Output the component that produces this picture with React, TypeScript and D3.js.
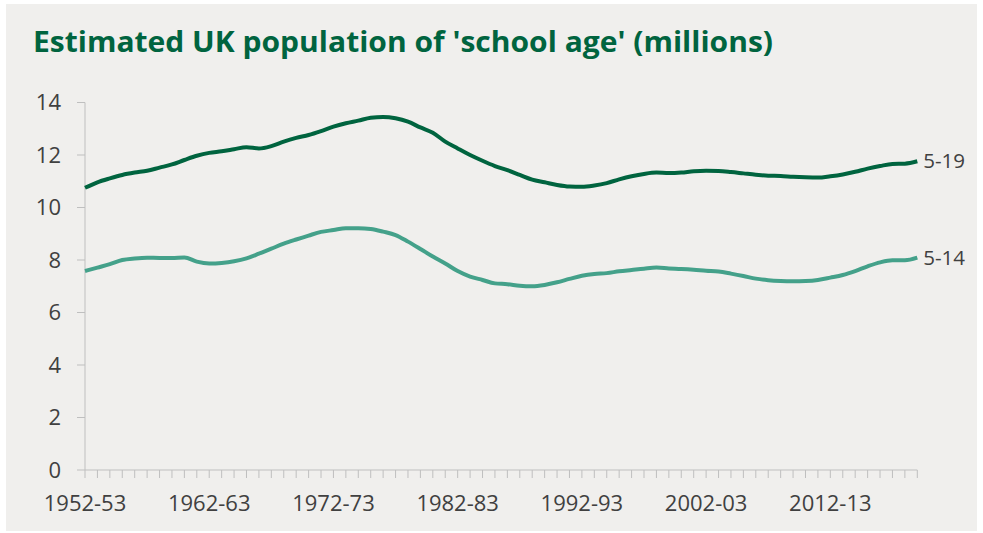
import React from "react";
import * as d3 from "d3";

const startYears: number[] = d3.range(1952, 2020);
const categories: string[] = startYears.map(
  (y) => `${y}-${String((y + 1) % 100).padStart(2, "0")}`
);

const ages5to19: number[] = [
  10.75, 10.96, 11.11, 11.24, 11.33, 11.4, 11.52, 11.64, 11.81, 11.97,
  12.08, 12.14, 12.22, 12.3, 12.25, 12.34, 12.51, 12.65, 12.76, 12.91,
  13.08, 13.21, 13.31, 13.42, 13.45, 13.4, 13.27, 13.05, 12.85, 12.51,
  12.25, 12.0, 11.78, 11.58, 11.42, 11.24, 11.06, 10.96, 10.86, 10.8,
  10.79, 10.84, 10.93, 11.07, 11.19, 11.28, 11.33, 11.31, 11.33, 11.38,
  11.4, 11.39, 11.35, 11.3, 11.25, 11.21, 11.2, 11.17, 11.15, 11.14,
  11.19, 11.26, 11.36, 11.48, 11.58, 11.66, 11.67, 11.76,
];

const ages5to14: number[] = [
  7.58, 7.71, 7.84, 8.0, 8.06, 8.09, 8.08, 8.08, 8.1, 7.94,
  7.87, 7.89, 7.95, 8.06, 8.24, 8.43, 8.62, 8.78, 8.93, 9.07,
  9.14, 9.21, 9.21, 9.18, 9.08, 8.95, 8.7, 8.42, 8.13, 7.87,
  7.58, 7.37, 7.24, 7.11, 7.08, 7.02, 7.0, 7.05, 7.15, 7.28,
  7.4, 7.47, 7.5, 7.57, 7.62, 7.67, 7.71, 7.68, 7.66, 7.63,
  7.59, 7.56, 7.48, 7.39, 7.29, 7.23, 7.2, 7.19, 7.2, 7.24,
  7.33, 7.43, 7.58, 7.76, 7.91, 7.99, 7.99, 8.09,
];

const yTicks: number[] = [0, 2, 4, 6, 8, 10, 12, 14];
const xTickLabels: string[] = [
  "1952-53",
  "1962-63",
  "1972-73",
  "1982-83",
  "1992-93",
  "2002-03",
  "2012-13",
];

const series = [
  { name: "5-19", values: ages5to19, color: "#00643f" },
  { name: "5-14", values: ages5to14, color: "#44a18a" },
];

const title = "Estimated UK population of 'school age' (millions)";

export default function App() {
  const W = 983;
  const H = 533;
  const left = 85;
  const right = 917.3;
  const top = 102.5;
  const bottom = 470;

  const x = d3.scalePoint<string>().domain(categories).range([left, right]);
  const y = d3.scaleLinear().domain([0, 14]).range([bottom, top]);

  const line = d3
    .line<number>()
    .x((_, i) => x(categories[i]) as number)
    .y((d) => y(d))
    .curve(d3.curveMonotoneX);

  const axisColor = "#bfbfbf";
  const textColor = "#404040";
  const font = "'Open Sans', 'Noto Sans', sans-serif";

  return (
    <svg
      width={W}
      height={H}
      style={{ display: "block", position: "absolute", left: 0, top: 0 }}
    >
      <rect x={0} y={0} width={W} height={H} fill="#ffffff" />
      <rect x={6} y={4} width={971} height={527} fill="#f0efed" />
      <text
        x={33}
        y={52}
        fill="#00643f"
        fontFamily="'Open Sans', sans-serif"
        fontWeight={700}
        fontSize={29}
        textLength={740}
        lengthAdjust="spacingAndGlyphs"
      >
        {title}
      </text>

      {/* y axis */}
      <line x1={left} x2={left} y1={top} y2={bottom} stroke={axisColor} strokeWidth={1} />
      {yTicks.map((t) => (
        <g key={t}>
          <line x1={left - 8} x2={left} y1={y(t)} y2={y(t)} stroke={axisColor} strokeWidth={1} />
          <text
            x={61}
            y={y(t)}
            dy="0.35em"
            textAnchor="end"
            fill={textColor}
            fontFamily={font}
            fontSize={22}
          >
            {t}
          </text>
        </g>
      ))}

      {/* x axis */}
      <line x1={left} x2={right} y1={bottom} y2={bottom} stroke={axisColor} strokeWidth={1} />
      {categories.map((c) => (
        <line
          key={c}
          x1={x(c)}
          x2={x(c)}
          y1={bottom}
          y2={bottom + 8}
          stroke={axisColor}
          strokeWidth={1}
        />
      ))}
      {xTickLabels.map((c) => (
        <text
          key={c}
          x={x(c)}
          y={511}
          textAnchor="middle"
          fill={textColor}
          fontFamily={font}
          fontSize={22}
        >
          {c}
        </text>
      ))}

      {series.map((s) => (
        <g key={s.name}>
          <path
            d={line(s.values) || ""}
            fill="none"
            stroke={s.color}
            strokeWidth={4}
            strokeLinejoin="round"
          />
          <text
            x={(x(categories[categories.length - 1]) as number) + 6}
            y={y(s.values[s.values.length - 1])}
            dy="0.35em"
            fill={textColor}
            fontFamily={font}
            fontSize={20.5}
          >
            {s.name}
          </text>
        </g>
      ))}
    </svg>
  );
}
